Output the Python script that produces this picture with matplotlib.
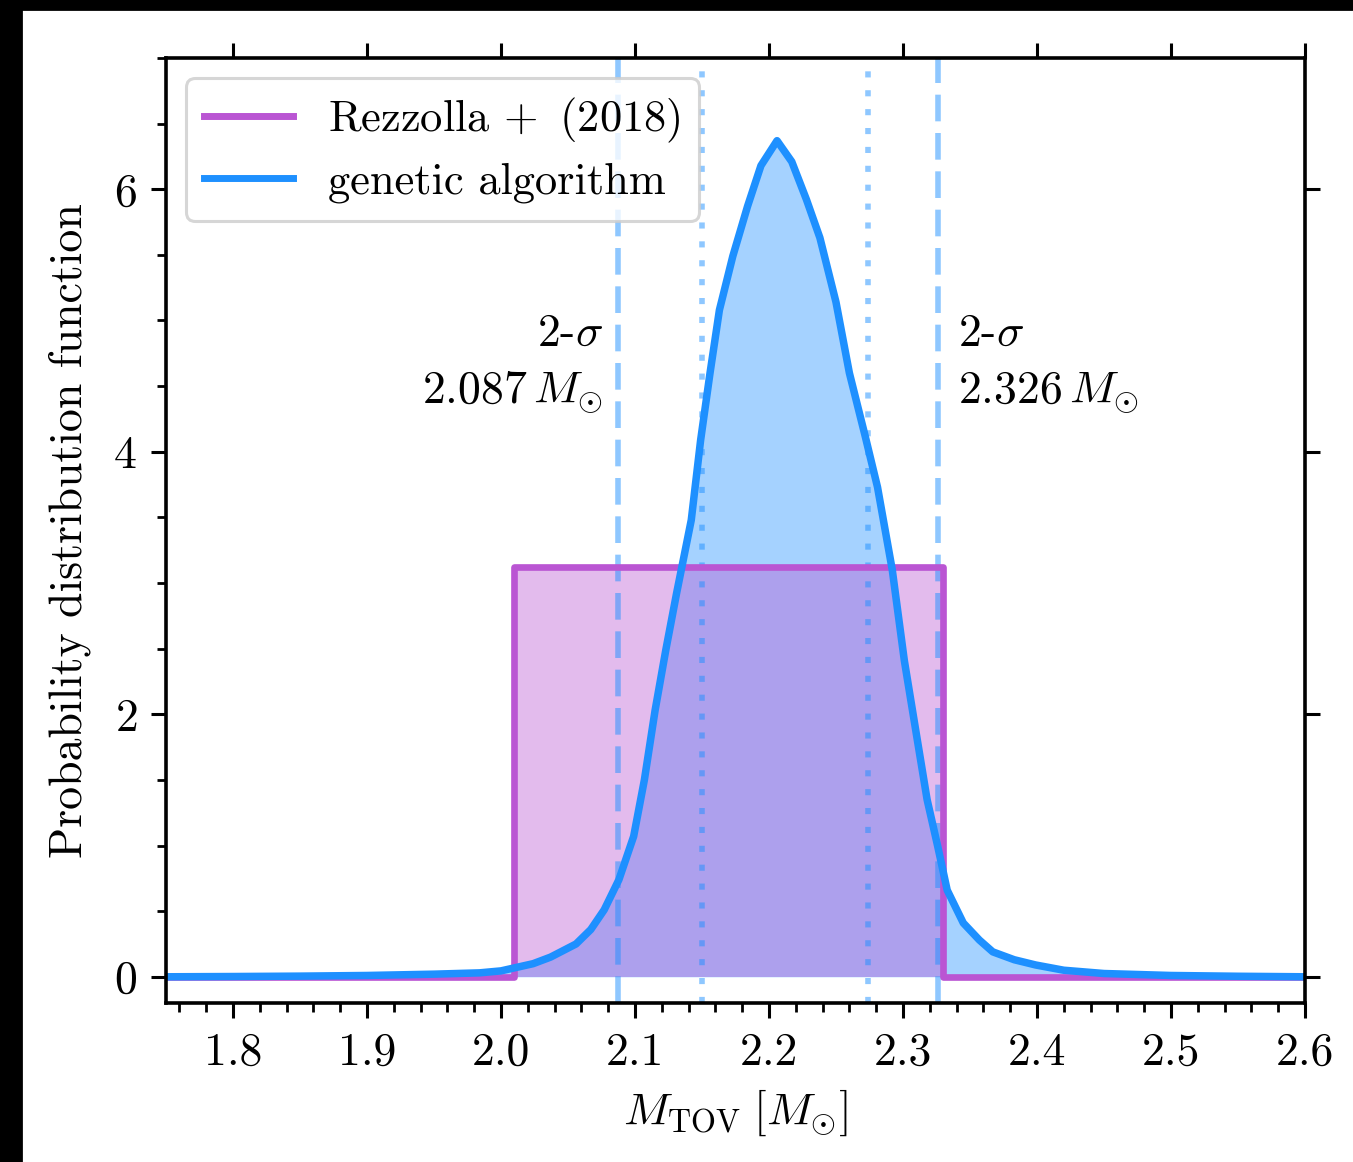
import numpy as np
import matplotlib
matplotlib.use('Agg')
import matplotlib.pyplot as plt
from matplotlib.patches import Rectangle
from matplotlib.ticker import MultipleLocator

plt.rcParams['font.family'] = 'serif'
plt.rcParams['font.serif'] = ['cmr10']
plt.rcParams['mathtext.fontset'] = 'cm'
plt.rcParams['axes.unicode_minus'] = False
plt.rcParams['axes.formatter.use_mathtext'] = True

# genetic algorithm PDF
m_ga = [1.75, 1.80, 1.85, 1.90, 1.95, 1.984, 2.0, 2.024, 2.037, 2.056, 2.067, 2.077,
        2.088, 2.099, 2.107, 2.115, 2.123, 2.131, 2.142, 2.149, 2.156, 2.163, 2.173,
        2.184, 2.194, 2.206, 2.217, 2.228, 2.238, 2.250, 2.260, 2.272, 2.281, 2.292,
        2.301, 2.309, 2.318, 2.326, 2.333, 2.345, 2.357, 2.367, 2.383, 2.399, 2.42,
        2.45, 2.50, 2.55, 2.60]
pdf_ga = [0.0, 0.002, 0.005, 0.01, 0.02, 0.03, 0.045, 0.10, 0.15, 0.25, 0.36, 0.51,
          0.74, 1.07, 1.50, 2.03, 2.49, 2.92, 3.48, 4.09, 4.60, 5.08, 5.49,
          5.87, 6.18, 6.37, 6.21, 5.92, 5.63, 5.14, 4.60, 4.11, 3.73, 3.10,
          2.41, 1.91, 1.35, 0.99, 0.66, 0.41, 0.28, 0.19, 0.13, 0.09, 0.05,
          0.025, 0.01, 0.004, 0.0]

# Rezzolla et al. (2018) uniform range
rez_lo, rez_hi = 2.01, 2.33

sigma2 = [2.087, 2.326]
sigma1 = [2.150, 2.274]

purple = '#BA55D3'
blue = '#1E90FF'

fig = plt.figure(figsize=(6.765, 5.81), dpi=200)
fig.patch.set_facecolor('white')
ax = fig.add_axes([0.1227, 0.1368, 0.8418, 0.8133])

# step function for the uniform prior
rez_x = [1.75, rez_lo, rez_lo, rez_hi, rez_hi, 2.6]
rez_y = [0, 0, 1 / (rez_hi - rez_lo), 1 / (rez_hi - rez_lo), 0, 0]
ax.fill_between(m_ga, pdf_ga, color=blue, alpha=0.4, lw=0)
ax.fill_between(rez_x, rez_y, color=purple, alpha=0.4, lw=0)

for xv in sigma2:
    ax.axvline(xv, color=blue, alpha=0.5, lw=2, ls=(0, (4.8, 2.1)))
for xv in sigma1:
    ax.axvline(xv, color=blue, alpha=0.5, lw=2, ls=(0, (1.1, 2.3)))

ax.plot(rez_x, rez_y, color=purple, lw=2.4, label=r'Rezzolla + $\,$(2018)')
ax.plot(m_ga, pdf_ga, color=blue, lw=2.7, label='genetic algorithm')

ax.text(2.076, 4.9, r'2-$\sigma$', ha='right', va='center', fontsize=16.5)
ax.text(2.076, 4.45, r'2.087$\,M_{\odot}$', ha='right', va='center', fontsize=16.5)
ax.text(2.341, 4.9, r'2-$\sigma$', ha='left', va='center', fontsize=16.5)
ax.text(2.341, 4.45, r'2.326$\,M_{\odot}$', ha='left', va='center', fontsize=16.5)

ax.set_xlim(1.75, 2.6)
ax.set_ylim(-0.2, 7)
ax.xaxis.set_major_locator(MultipleLocator(0.1))
ax.xaxis.set_minor_locator(MultipleLocator(0.02))
ax.yaxis.set_major_locator(MultipleLocator(2))
ax.yaxis.set_minor_locator(MultipleLocator(0.5))
ax.xaxis.set_major_formatter(matplotlib.ticker.FormatStrFormatter('%.1f'))

ax.tick_params(which='major', direction='out', length=5.4, width=1.1,
               top=True, right=True, labelsize=16.5, pad=5)
ax.tick_params(which='minor', direction='out', length=3.2, width=1.0,
               top=False, right=False)
for s in ax.spines.values():
    s.set_linewidth(1.3)

ax.set_xlabel(r'$M_{\mathrm{TOV}}\;[M_{\odot}]$', fontsize=16.5, labelpad=5)
ax.set_ylabel('Probability distribution function', fontsize=16.5, labelpad=8)

leg = ax.legend(loc='upper left', fontsize=16, fancybox=True, framealpha=0.8,
                borderaxespad=0.45, labelspacing=0.4, borderpad=0.4)
leg.get_frame().set_linewidth(1.1)
for h in leg.get_lines():
    h.set_linewidth(2.5)

# dark strips at the top and left edges of the original image
fig.patches.append(Rectangle((0, 0), 21 / 1353, 1, transform=fig.transFigure,
                             color='black', zorder=10))
fig.patches.append(Rectangle((0, 1 - 9 / 1162), 1, 9 / 1162, transform=fig.transFigure,
                             color='black', zorder=10))

fig.savefig('out.png', dpi=200)
